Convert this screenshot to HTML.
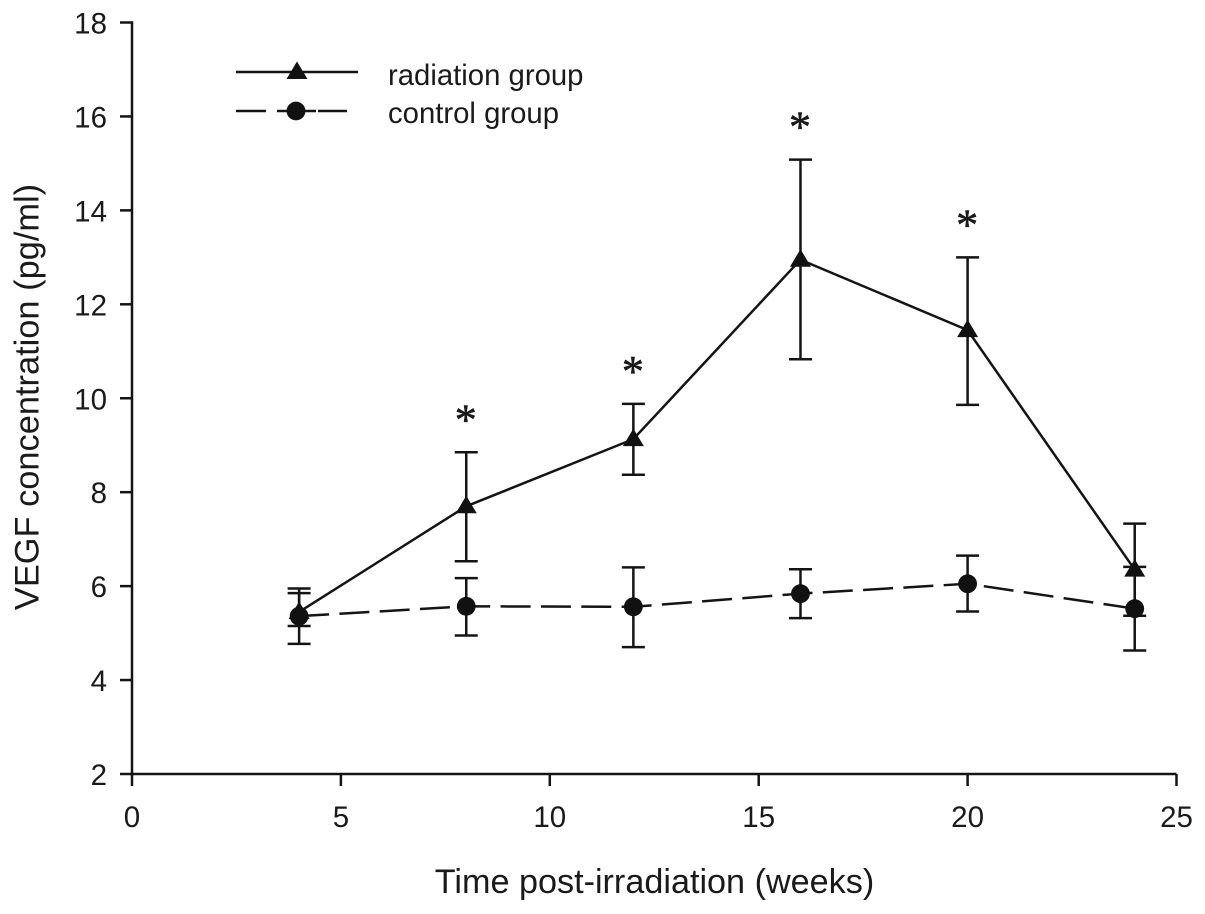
<!DOCTYPE html>
<html lang="en">
<head>
<meta charset="utf-8">
<title>VEGF concentration chart</title>
<style>
html,body{margin:0;padding:0;background:#fff;width:1205px;height:914px;overflow:hidden}
svg{display:block;font-family:"Liberation Sans",Arial,sans-serif;fill:#1a1a1a}
</style>
</head>
<body>
<svg id="chart" width="1205" height="914" viewBox="0 0 1205 914"></svg>
<script>
const weeks = [4, 8, 12, 16, 20, 24];
const radiationValues = [5.45, 7.7, 9.13, 12.95, 11.45, 6.35];
const radiationUpper = [5.95, 8.85, 9.88, 15.08, 13.0, 7.33];
const radiationLower = [5.15, 6.53, 8.37, 10.83, 9.86, 5.37];
const controlValues = [5.36, 5.57, 5.56, 5.84, 6.05, 5.52];
const controlUpper = [5.85, 6.17, 6.4, 6.36, 6.65, 6.41];
const controlLower = [4.77, 4.95, 4.7, 5.32, 5.46, 4.63];
const xTicks = [0, 5, 10, 15, 20, 25];
const yTicks = [2, 4, 6, 8, 10, 12, 14, 16, 18];
const starWeeks = [8, 12, 16, 20];
const starValues = [8.85, 9.88, 15.08, 13.0];

const NS = 'http://www.w3.org/2000/svg';
const svg = document.getElementById('chart');
const INK = '#141414';
function xScale(v){ return 132 + (v - 0) * (1176.5 - 132) / 25; }
function yScale(v){ return 774 - (v - 2) * (774 - 22.5) / 16; }
function make(tag, attrs, parent){
  const el = document.createElementNS(NS, tag);
  for (const k in attrs) el.setAttribute(k, attrs[k]);
  (parent || svg).appendChild(el);
  return el;
}
function line(x1, y1, x2, y2, w, parent){
  const el = make('line', {x1:x1, y1:y1, x2:x2, y2:y2, stroke:INK, 'stroke-width':w}, parent);
  return el;
}
function triangle(cx, cy, parent){
  const el = make('polygon', {points:(cx)+','+(cy-10.5)+' '+(cx+10.5)+','+(cy+7)+' '+(cx-10.5)+','+(cy+7), fill:'#111'}, parent);
  return el;
}
function circle(cx, cy, parent){
  const el = make('circle', {cx:cx, cy:cy, r:9.4, fill:'#111'}, parent);
  return el;
}

/* axes */
const axisY = line(132, 21.3, 132, 775.2, 2.5);


const axisX = line(130.8, 774, 1176.5, 774, 2.5);



yTicks.forEach(function(t){
  const y = yScale(t);
  const tick = line(120, y, 132, y, 2.5);
  
  
  const label = make('text', {x:107, y:y + 11, 'text-anchor':'end', 'font-size':29.5});
  label.textContent = t;
  
  
});
xTicks.forEach(function(t){
  const x = xScale(t);
  const tick = line(x, 774, x, 786, 2.5);
  
  
  const label = make('text', {x:x, y:827, 'text-anchor':'middle', 'font-size':29.5});
  label.textContent = t;
  
  
});

/* error bars */
function errorBars(name, uppers, lowers){
  weeks.forEach(function(w, i){
    const x = xScale(w), yu = yScale(uppers[i]), yl = yScale(lowers[i]);
    const g = make('g', {});
    
    
    line(x, yu, x, yl, 2.5, g);
    line(x - 11.5, yu, x + 11.5, yu, 2.5, g);
    line(x - 11.5, yl, x + 11.5, yl, 2.5, g);
  });
}
errorBars('radiation-error-bar', radiationUpper, radiationLower);
errorBars('control-error-bar', controlUpper, controlLower);

/* series lines */
function pts(values){
  return weeks.map(function(w, i){ return xScale(w) + ',' + yScale(values[i]); }).join(' ');
}
const radLine = make('polyline', {points:pts(radiationValues), fill:'none', stroke:INK, 'stroke-width':2.5});


const ctlLine = make('polyline', {points:pts(controlValues), fill:'none', stroke:INK, 'stroke-width':2.5, 'stroke-dasharray':'30 10.35'});



/* markers */
weeks.forEach(function(w, i){
  const m = triangle(xScale(w), yScale(radiationValues[i]));
  
  
});
weeks.forEach(function(w, i){
  const m = circle(xScale(w), yScale(controlValues[i]));
  
  
});

/* significance stars */
starWeeks.forEach(function(w, i){
  const s = make('text', {x:xScale(w) - 0.5, y:yScale(starValues[i]) - 18, 'text-anchor':'middle', 'font-size':44, stroke:'#1a1a1a', 'stroke-width':0.6, style:'font-family:"Liberation Serif",serif'});
  s.textContent = '*';
  
  
});

/* legend */
const legendA = make('g', {});


line(236, 72, 358, 72, 2.5, legendA);
triangle(297, 72, legendA);
const legendAText = make('text', {x:388, y:85, 'font-size':29.3}, legendA);
legendAText.textContent = 'radiation group';

const legendB = make('g', {});


line(236, 111, 266, 111, 2.5, legendB);
line(277, 111, 316, 111, 2.5, legendB);
line(318, 111, 347, 111, 2.5, legendB);
circle(296, 111, legendB);
const legendBText = make('text', {x:388, y:123, 'font-size':29.3}, legendB);
legendBText.textContent = 'control group';

/* axis titles */
const xTitle = make('text', {x:654.5, y:893, 'text-anchor':'middle', 'font-size':34.2});
xTitle.textContent = 'Time post-irradiation (weeks)';


const yTitle = make('text', {x:0, y:0, 'text-anchor':'middle', 'font-size':34.4, transform:'translate(38.5,397) rotate(-90)'});
yTitle.textContent = 'VEGF concentration (pg/ml)';


</script>
</body>
</html>
